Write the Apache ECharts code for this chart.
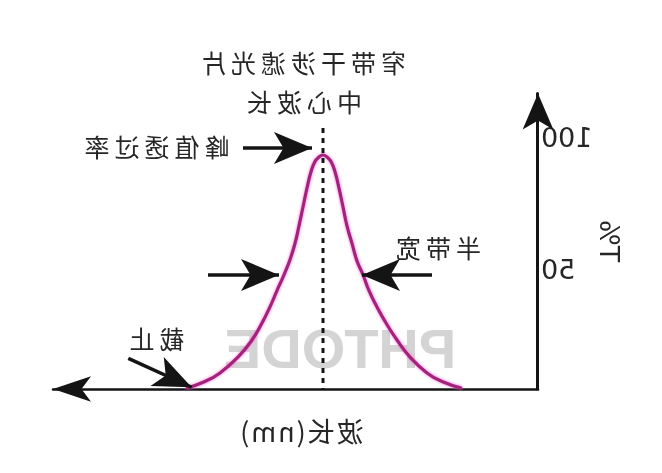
<!DOCTYPE html>
<html>
<head>
<meta charset="utf-8">
<script src="https://cdn.jsdelivr.net/npm/echarts@6/dist/echarts.min.js"></script>
<style>
  html, body { margin: 0; padding: 0; background: #fff; }
  #chart { width: 662px; height: 473px; transform: scaleX(-1); }
</style>
</head>
<body>
<div id="chart"></div>
<script>
// ---- data (x in arbitrary wavelength units, y in T%) ----
const curveX = [76, 96, 111, 128, 141, 152, 161, 169, 175, 181, 186, 191, 195, 199, 203, 207, 211, 215, 219, 223, 227, 231, 235, 239, 243, 248, 254, 261, 268, 276, 286, 300, 318, 333, 352];
const curveY = [0.3, 3, 6.4, 12.7, 19.5, 26.3, 32.7, 39.2, 45.5, 51, 58, 65, 72.5, 80, 86.5, 90.6, 92.4, 93.2, 92.4, 90.6, 86.5, 80, 72.5, 65, 58, 51.5, 45.5, 39.2, 32.7, 26.3, 19.5, 12.7, 6.4, 3, 0.3];
const centerX = 215;
const centerLineY = [104, 0];
const yTickLabels = [50, 100];
const texts = {
  title1: '窄带干涉滤光片',
  title2: '中心波长',
  peak: '峰值透过率',
  fwhm: '半带宽',
  cutoff: '截止',
  xName: '波长(nm)',
  yName: 'T%',
  mark: 'PHTODE'
};
// arrows: [fromX, fromY, toX, toY]
const arrowPeak = [295, 96, 226, 96];
const arrowHalfLow = [106, 45.4, 176, 45.4];
const arrowHalfHigh = [330, 45.4, 259, 45.4];
const arrowCutoff = [409.7, 12.2, 346.3, 0.7];

const curveData = curveX.map((x, i) => [x, curveY[i]]);
const centerData = centerLineY.map(y => [centerX, y]);
const arrows = [arrowPeak, arrowHalfLow, arrowHalfHigh, arrowCutoff];

const CJK = "'Noto Sans CJK SC', 'Noto Sans', sans-serif";
const LAT = "'DejaVu Sans', sans-serif";
const TXT = '#262626';
const AX = '#141414';

const chart = echarts.init(document.getElementById('chart'), null, { renderer: 'svg' });
chart.setOption({
  animation: false,
  grid: { left: 124, right: 53, top: 93.5, bottom: 84 },
  xAxis: {
    type: 'value', min: 0, max: 485,
    axisLine: { show: true, symbol: ['none', 'arrow'], symbolSize: [19, 38], lineStyle: { color: AX, width: 2.5 } },
    axisTick: { show: false }, axisLabel: { show: false }, splitLine: { show: false },
    name: texts.xName, nameLocation: 'middle', nameGap: 28,
    nameTextStyle: { fontFamily: CJK, fontSize: 27, color: TXT, padding: [0, 11, 0, 0] }
  },
  yAxis: {
    type: 'value', min: 0, max: 117.7, interval: 50,
    axisLine: { show: true, symbol: ['none', 'arrow'], symbolSize: [23, 36], lineStyle: { color: AX, width: 3 } },
    axisTick: { show: false }, splitLine: { show: false },
    axisLabel: {
      margin: 3, fontFamily: LAT, fontSize: 27, color: TXT,
      formatter: v => (v === yTickLabels[1] ? '{a|' + v + '}' : (v === yTickLabels[0] ? '{b|' + v + '}' : '')),
      rich: { a: { fontFamily: LAT, fontSize: 27, color: TXT }, b: { fontFamily: LAT, fontSize: 27, color: TXT, padding: [12, 0, 0, 0] } }
    },
    name: texts.yName, nameLocation: 'middle', nameRotate: 90, nameGap: 58, nameMoveOverlap: false,
    nameTextStyle: { fontFamily: LAT, fontSize: 27, color: TXT }
  },
  graphic: [
    { type: 'text', x: 322, y: 348, z: -10, style: { text: texts.mark, font: "bold 56px 'Liberation Sans', sans-serif", fill: '#d4d4d4', textAlign: 'center', textVerticalAlign: 'middle' } },
    { type: 'text', x: 361, y: 62, style: { text: texts.title1, font: "25px " + CJK, fill: TXT, textAlign: 'center', textVerticalAlign: 'middle' } },
    { type: 'text', x: 360, y: 101, style: { text: texts.title2, font: "25px " + CJK, fill: TXT, textAlign: 'center', textVerticalAlign: 'middle' } },
    { type: 'text', x: 507.5, y: 146, style: { text: texts.peak, font: "25px " + CJK, fill: TXT, textAlign: 'center', textVerticalAlign: 'middle' } },
    { type: 'text', x: 226, y: 246.5, style: { text: texts.fwhm, font: "25px " + CJK, fill: TXT, textAlign: 'center', textVerticalAlign: 'middle' } },
    { type: 'text', x: 507.5, y: 337.5, style: { text: texts.cutoff, font: "25px " + CJK, fill: TXT, textAlign: 'center', textVerticalAlign: 'middle' } }
  ],
  series: [
    {
      type: 'line', data: curveData, smooth: true, symbol: 'none', z: 3,
      lineStyle: { color: '#a3207a', width: 3.2, shadowColor: 'rgba(255,90,210,0.9)', shadowBlur: 3 },
      markLine: {
        silent: true, animation: false,
        symbol: ['none', 'arrow'],
        symbolSize: [24, 38],
        label: { show: false },
        itemStyle: { color: AX },
        lineStyle: { color: AX, width: 3.5, type: 'solid' },
        data: arrows.map(a => [{ coord: [a[0], a[1]] }, { coord: [a[2], a[3]] }])
      }
    },
    {
      type: 'line', data: centerData, symbol: 'none', z: 4,
      lineStyle: { color: AX, width: 3, type: [5, 5] }
    }
  ]
});
function spaceCJK() {
  document.querySelectorAll('#chart svg text').forEach(t => {
    const s = t.textContent || '';
    if (/[\u4e00-\u9fff]/.test(s)) {
      t.style.letterSpacing = s.indexOf('nm') >= 0 ? '2px' : '5px';
    }
  });
}
chart.on('finished', spaceCJK);
spaceCJK();
</script>
</body>
</html>
